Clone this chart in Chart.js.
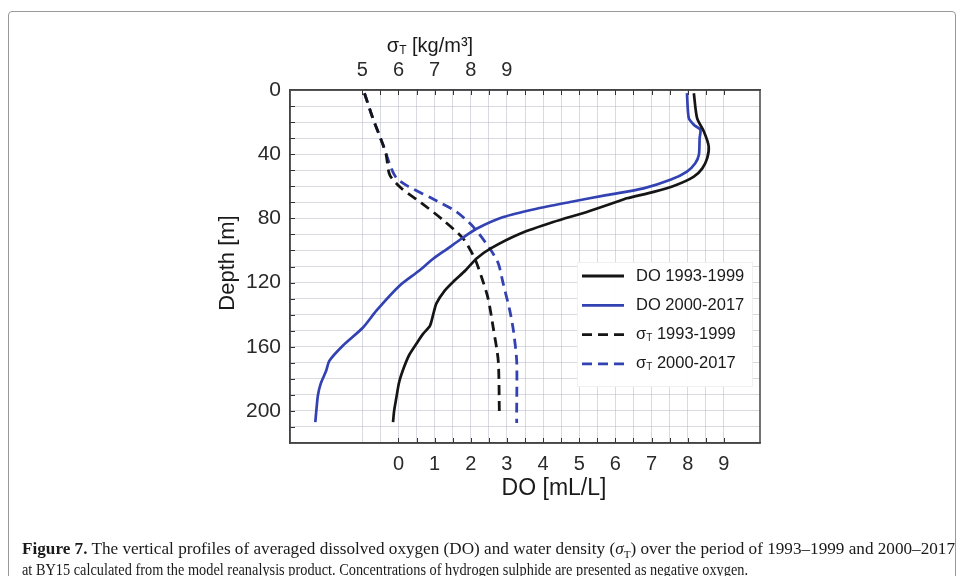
<!DOCTYPE html>
<html>
<head>
<meta charset="utf-8">
<script src="https://cdn.jsdelivr.net/npm/chart.js@4.4.1/dist/chart.umd.min.js"></script>
<style>
html, body { margin: 0; padding: 0; background: #fff; }
#wrap { position: relative; width: 963px; height: 576px; overflow: hidden; }
#frame { position: absolute; left: 8px; top: 11px; width: 946px; height: 620px; border: 1px solid #999; border-radius: 4px; }
canvas { position: absolute; left: 0; top: 0; }
.cap { position: absolute; left: 22px; font-family: "Liberation Serif", "Times New Roman", serif; font-size: 17px; color: #1a1a1a; white-space: nowrap; transform-origin: 0 0; }
.cap sub { font-size: 11px; }
</style>
</head>
<body>
<div id="wrap">
  <div id="frame"></div>
  <canvas id="c" width="963" height="576"></canvas>
  <div class="cap" id="cap1" data-w="933" style="top:539px"><b>Figure 7.</b> The vertical profiles of averaged dissolved oxygen (DO) and water density (<i>σ</i><sub>T</sub>) over the period of 1993–1999 and 2000–2017</div>
  <div class="cap" id="cap2" data-w="726" style="top:560px">at BY15 calculated from the model reanalysis product. Concentrations of hydrogen sulphide are presented as negative oxygen.</div>
</div>
<script>
// DO profiles (mL/L) against depth (m)
const depthDO93 = [2, 17.5, 26, 35, 42.5, 49, 54, 59, 63.5, 67.5, 70, 76, 82.3, 89.6, 99, 105, 112.5, 118.75, 125, 133, 140, 147, 152, 158, 165, 173, 182, 192, 200, 207];
const do93      = [8.17, 8.26, 8.45, 8.58, 8.54, 8.4, 8.17, 7.7, 7.06, 6.32, 6.0, 5.21, 4.28, 3.36, 2.53, 2.16, 1.85, 1.55, 1.28, 1.05, 0.96, 0.87, 0.68, 0.5, 0.3, 0.15, 0.02, -0.06, -0.12, -0.15];

const depthDO00 = [2, 17.5, 21.7, 24.8, 30, 40.4, 45.6, 50.8, 56, 61.3, 65.5, 69.8, 74, 79.2, 86.5, 92.7, 99, 105.2, 113, 122, 137.5, 148, 159.4, 168.75, 175, 183, 190.6, 207];
const do00      = [7.98, 8.03, 8.17, 8.35, 8.33, 8.31, 8.21, 7.98, 7.52, 6.78, 5.75, 4.75, 3.82, 2.9, 2.16, 1.74, 1.35, 0.96, 0.55, 0.03, -0.61, -0.98, -1.54, -1.91, -2.0, -2.15, -2.23, -2.3];

// sigma-T profiles (kg/m3) against depth (m)
const depthSig93 = [2, 17.5, 34, 40.4, 53, 61.25, 70.3, 81, 92.6, 105, 116.7, 130, 148, 168.75, 200, 202];
const sig93      = [5.06, 5.29, 5.57, 5.66, 5.76, 6.08, 6.63, 7.23, 7.79, 8.11, 8.3, 8.48, 8.62, 8.76, 8.79, 8.79];

const depthSig00 = [2, 17.5, 34, 48.75, 55, 60.2, 67.5, 75.8, 85.3, 98.9, 108, 120, 137.5, 150, 168.75, 200, 207.5];
const sig00      = [5.06, 5.29, 5.57, 5.8, 5.95, 6.28, 6.92, 7.6, 8.07, 8.53, 8.76, 8.89, 9.08, 9.18, 9.27, 9.27, 9.27];

const doTicks = [0, 1, 2, 3, 4, 5, 6, 7, 8, 9];
const sigmaTicks = [5, 6, 7, 8, 9];
const depthTicks = [0, 40, 80, 120, 160, 200];

const seriesNames = ['DO 1993-1999', 'DO 2000-2017', 'σT 1993-1999', 'σT 2000-2017'];

const BLACK = '#151515';
const BLUE = '#3342b3';
const GRID = 'rgba(180,182,195,0.5)';
const FONT = '"Liberation Sans", Arial, Helvetica, sans-serif';

function pts(xs, ys) { return xs.map((x, i) => ({ x: x, y: ys[i] })); }

// σ_T with subscript
function drawSigmaText(ctx, x, y, rest, size) {
  ctx.font = size + 'px ' + FONT;
  ctx.textBaseline = 'middle';
  ctx.textAlign = 'left';
  ctx.fillText('σ', x, y);
  let w = ctx.measureText('σ').width;
  ctx.font = Math.round(size * 0.62) + 'px ' + FONT;
  ctx.fillText('T', x + w, y + size * 0.22);
  w += ctx.measureText('T').width;
  ctx.font = size + 'px ' + FONT;
  ctx.fillText(rest, x + w, y);
  return w + ctx.measureText(rest).width;
}
function sigmaWidth(ctx, rest, size) {
  ctx.font = size + 'px ' + FONT;
  let w = ctx.measureText('σ').width + ctx.measureText(rest).width;
  ctx.font = Math.round(size * 0.62) + 'px ' + FONT;
  return w + ctx.measureText('T').width;
}

const decor = {
  id: 'decor',
  afterDraw(chart) {
    const ctx = chart.ctx;
    const a = chart.chartArea;
    const sx = chart.scales.x, sx2 = chart.scales.x2, sy = chart.scales.y;
    ctx.save();
    // inward tick marks
    ctx.strokeStyle = '#333';
    ctx.lineWidth = 1;
    ctx.beginPath();
    for (let v = 0; v <= 9.001; v += 0.5) {
      const px = Math.round(sx.getPixelForValue(v)) + 0.5;
      ctx.moveTo(px, a.bottom); ctx.lineTo(px, a.bottom - 5);
    }
    for (let v = 5; v <= 15.001; v += 0.5) {
      const px = Math.round(sx2.getPixelForValue(v)) + 0.5;
      ctx.moveTo(px, a.top); ctx.lineTo(px, a.top + 5);
    }
    for (let d = 10; d <= 210; d += 10) {
      const py = Math.round(sy.getPixelForValue(d)) + 0.5;
      ctx.moveTo(a.left, py); ctx.lineTo(a.left + 5, py);
    }
    ctx.stroke();
    // frame of the plot
    ctx.strokeStyle = '#444';
    ctx.lineWidth = 1.5;
    ctx.strokeRect(a.left, a.top, a.right - a.left, a.bottom - a.top);

    // legend
    const lx = 577, ly = 262, lw = 175, lh = 124;
    ctx.fillStyle = 'rgba(255,255,255,0.97)';
    ctx.fillRect(lx, ly, lw, lh);
    ctx.strokeStyle = '#f0f0f0';
    ctx.lineWidth = 1;
    ctx.strokeRect(lx + 0.5, ly + 0.5, lw, lh);
    chart.data.datasets.forEach((ds, i) => {
      const yy = ly + 14 + i * 29.3;
      ctx.strokeStyle = ds.borderColor;
      ctx.lineWidth = 2.8;
      ctx.setLineDash(ds.borderDash || []);
      ctx.beginPath();
      ctx.moveTo(582, yy); ctx.lineTo(624, yy);
      ctx.stroke();
      ctx.setLineDash([]);
      ctx.fillStyle = '#1a1a1a';
      const name = seriesNames[i];
      if (name.startsWith('σT')) {
        drawSigmaText(ctx, 636, yy, name.slice(2), 16.5);
      } else {
        ctx.font = '16.5px ' + FONT;
        ctx.textBaseline = 'middle';
        ctx.textAlign = 'left';
        ctx.fillText(name, 636, yy);
      }
    });

    // axis titles
    ctx.fillStyle = '#1a1a1a';
    const topRest = ' [kg/m³]';
    const tw = sigmaWidth(ctx, topRest, 20);
    drawSigmaText(ctx, 430 - tw / 2, 46, topRest, 20);

    ctx.font = '23px ' + FONT;
    ctx.textAlign = 'center';
    ctx.textBaseline = 'middle';
    ctx.fillText('DO [mL/L]', 554, 489);

    ctx.font = '22px ' + FONT;
    ctx.translate(228, 263);
    ctx.rotate(-Math.PI / 2);
    ctx.fillText('Depth [m]', 0, 0);
    ctx.restore();
  }
};

new Chart(document.getElementById('c'), {
  type: 'line',
  data: {
    datasets: [
      { label: seriesNames[0], data: pts(do93, depthDO93), xAxisID: 'x', yAxisID: 'y', borderColor: BLACK, borderWidth: 2.7 },
      { label: seriesNames[1], data: pts(do00, depthDO00), xAxisID: 'x', yAxisID: 'y', borderColor: BLUE, borderWidth: 2.7 },
      { label: seriesNames[2], data: pts(sig93, depthSig93), xAxisID: 'x2', yAxisID: 'y', borderColor: BLACK, borderWidth: 2.8, borderDash: [10, 6] },
      { label: seriesNames[3], data: pts(sig00, depthSig00), xAxisID: 'x2', yAxisID: 'y', borderColor: BLUE, borderWidth: 2.8, borderDash: [10, 6] }
    ]
  },
  options: {
    responsive: false,
    animation: false,
    parsing: false,
    elements: { point: { radius: 0 }, line: { tension: 0.25, fill: false } },
    layout: { padding: { left: 0, right: 203, top: 0, bottom: 0 } },
    plugins: { legend: { display: false }, tooltip: { enabled: false } },
    scales: {
      x: {
        type: 'linear', position: 'bottom', min: -3, max: 10,
        afterFit: s => { s.height = 133; },
        ticks: {
          stepSize: 0.5, autoSkip: false, maxRotation: 0, padding: 9,
          color: '#2a2a2a', font: { size: 20, family: FONT },
          callback: v => doTicks.includes(v) ? String(v) : ''
        },
        grid: { drawTicks: false, lineWidth: 1, color: c => (c.tick && c.tick.value >= -1 && c.tick.value <= 9) ? GRID : 'rgba(0,0,0,0)' },
        border: { color: '#444', width: 1.5 }
      },
      x2: {
        type: 'linear', position: 'top', min: 3, max: 16,
        afterFit: s => { s.height = 90; },
        ticks: {
          stepSize: 0.5, autoSkip: false, maxRotation: 0, padding: 8,
          color: '#2a2a2a', font: { size: 20, family: FONT },
          callback: v => sigmaTicks.includes(v) ? String(v) : ''
        },
        grid: { display: false, drawTicks: false },
        border: { color: '#444', width: 1.5 }
      },
      y: {
        type: 'linear', reverse: true, min: 0, max: 220,
        afterFit: s => { s.width = 290; },
        ticks: {
          stepSize: 10, autoSkip: false, padding: 9,
          color: '#2a2a2a', font: { size: 21, family: FONT },
          callback: v => depthTicks.includes(v) ? String(v) : ''
        },
        grid: { drawTicks: false, color: GRID, lineWidth: 1 },
        border: { color: '#444', width: 1.5 }
      }
    }
  },
  plugins: [decor]
});

// fit caption lines to their printed widths
document.querySelectorAll('.cap').forEach(el => {
  const w = el.getBoundingClientRect().width;
  el.style.transform = 'scaleX(' + (parseFloat(el.dataset.w) / w) + ')';
});
</script>
</body>
</html>
